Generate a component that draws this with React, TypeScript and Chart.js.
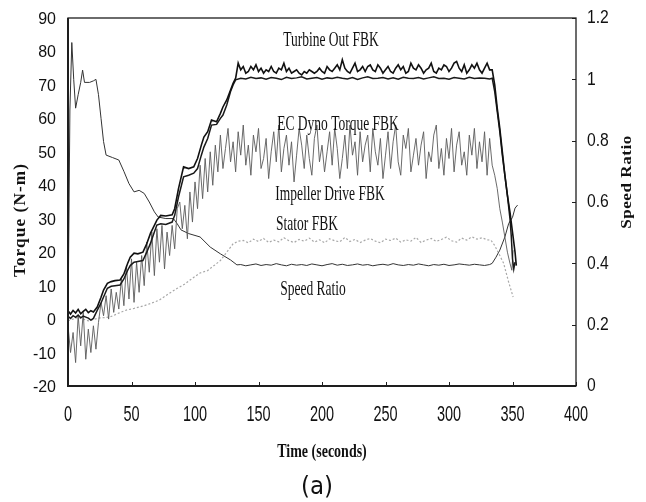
import React, { useEffect, useRef } from "react";
import { Chart, registerables } from "chart.js";

Chart.register(...registerables);

// ---------- axis ticks ----------
const X_TICKS = [0, 50, 100, 150, 200, 250, 300, 350, 400];
const TORQUE_TICKS = [-20, -10, 0, 10, 20, 30, 40, 50, 60, 70, 80, 90];
const RATIO_TICKS = [0, 0.2, 0.4, 0.6, 0.8, 1, 1.2];

// ---------- annotations ----------
const SERIES_LABELS = ["Turbine Out FBK", "EC Dyno Torque FBK", "Impeller Drive FBK", "Stator FBK", "Speed Ratio"];

// ---------- ramp-up time samples (s) shared by the two top torque traces ----------
const RAMP_TIME = [0, 2, 4, 6, 8, 10, 12, 14, 16, 18, 20, 23, 26, 28, 31, 34, 37, 41, 44, 47, 49, 52, 55, 59, 62, 65, 68, 70, 73, 77, 82, 84, 87, 91, 95, 99, 102, 105, 107, 110, 113, 117, 120, 122, 125, 128, 130, 132];

// Turbine Out FBK (N-m)
const turbineRamp = [2.5, 1.5, 2.6, 1.8, 2.9, 1.6, 2.3, 2.9, 1.9, 2.5, 2.1, 3.6, 6.5, 8.7, 10.7, 11.2, 11.5, 11.7, 13.5, 16.7, 18.5, 19.7, 19.5, 20, 22.5, 25.7, 28, 29.6, 31, 30.8, 31.2, 33, 39, 45.5, 45, 45.5, 48, 52, 54.4, 56, 59.5, 59, 61.5, 63.4, 65.5, 68.5, 70.5, 72];
const TURBINE_PLATEAU_START = 134; // every 2 s
const turbinePlateau = [
  76.5, 74.5, 75.5, 73.5, 74, 75.5, 74.5, 76, 74, 75,
  73.5, 74.5, 74, 75.5, 74, 73.5, 75, 74.5, 76.5, 74,
  75, 73.5, 74, 74.5, 73.5, 73, 74, 73.5, 74.5, 74,
  73.5, 74, 75, 74, 73.5, 75.5, 74.5, 74, 75, 76,
  74.5, 77.5, 75, 74, 73.5, 75, 76.5, 74, 74.5, 75.5,
  74, 75.5, 76, 74.5, 74, 76, 75, 73.5, 74.5, 75.5,
  74, 73.5, 75, 76, 74.5, 75.5, 73.5, 74, 76.5, 75,
  74.5, 76, 75, 73.5, 74.5, 75, 76.5, 74, 73.5, 75,
  74.5, 76, 75.5, 74, 75, 76.5, 77, 75, 74, 76,
  73.5, 74.5, 76, 75, 76.5, 74.5, 73.5, 75, 76.5, 74.5,
];
const turbineDropTime = [334, 336, 338, 340, 342, 344, 346, 348, 350, 352, 353];
const turbineDrop = [74.5, 70, 63, 57, 50, 43, 37, 32, 26, 20, 16];

// EC Dyno Torque FBK (N-m)
const dynoRamp = [0.8, 0.2, 1.0, 0.5, 1.2, 0.4, 0.9, 0.6, 0.3, -0.3, 0.2, 2.6, 4.8, 6.6, 9.2, 9.8, 10, 10.2, 12, 14.6, 16, 17, 17.2, 17.5, 20, 22.7, 26, 28.1, 28.5, 28.3, 29, 31, 36.5, 42.5, 43, 43.6, 45, 49, 51.4, 54, 58, 58.2, 60, 61, 64, 68, 70, 71.5];
const DYNO_PLATEAU_START = 136; // every 4 s
const dynoPlateau = [
  72, 71.8, 72.3, 71.9, 72.1, 71.7, 72.2, 72, 71.6, 72.3,
  71.9, 72.1, 72.4, 71.8, 72, 72.2, 71.7, 72.1, 71.9, 72.3,
  72, 71.8, 72.2, 71.6, 72.1, 72.4, 71.9, 72, 72.2, 71.8,
  72.1, 71.7, 72.3, 72, 71.9, 72.2, 71.8, 72.1, 72.4, 71.9,
  72, 71.7, 72.2, 72, 71.8, 72.3, 71.9, 72.1, 72, 71.8,
];
const dynoDropTime = [334, 336, 338, 340, 342, 344, 346, 348, 349, 350, 351, 352];
const dynoDrop = [72, 68, 62, 56, 49, 43, 37, 30, 25, 18, 15, 17];

// Impeller Drive FBK (N-m), sampled every 2 s from t = 0
const IMPELLER_STEP = 2;
const impeller = [
  -2, -10, -4, -13, 1, -8, 2, -12, -3, -10,
  -2, -9, -1, 5, 1, 7, 0, 9, 2, 8,
  3, 12, 4, 16, 6, 18, 5, 17, 8, 19,
  10, 23, 14, 26, 13, 27, 17, 28, 15, 26,
  19, 28, 21, 33, 35, 27, 34, 24, 38, 29,
  41, 33, 46, 36, 48, 38, 50, 40, 52, 44,
  55, 45, 51, 57, 47, 53, 44, 56, 49, 58,
  46, 52, 43, 55, 50, 57, 45, 48, 54, 42,
  50, 56, 47, 58, 44, 51, 55, 46, 53, 41,
  49, 57, 52, 45, 55, 48, 43, 54, 58, 47,
  52, 44, 50, 56, 46, 57, 51, 42, 48, 55,
  45, 58, 49, 53, 43, 56, 47, 52, 55, 44,
  57, 50, 46, 54, 42, 49, 56, 45, 53, 58,
  47, 43, 55, 51, 57, 44, 49, 54, 46, 52,
  56, 42, 50, 47, 55, 58, 45, 51, 43, 54,
  48, 57, 44, 52, 56, 46, 50, 43, 55, 49,
  57, 45, 53, 47, 56, 43, 54, 46,
];
const impellerDropTime = [336, 338, 340, 342, 344, 346, 348, 349.5, 350.5];
const impellerDrop = [43, 39, 33, 29, 24.5, 20, 16.7, 14.6, 20.6];

// Stator FBK (N-m)
const statorRampTime = [0, 8, 16, 24, 33, 40, 46, 52, 60, 66, 72, 79, 86, 92, 98, 104, 110, 115, 120, 125, 130, 134];
const statorRamp = [-0.5, 0.5, -0.5, 0.3, 0.6, 1.8, 2.7, 3.2, 4, 4.8, 5.7, 7.5, 9.2, 10.5, 12.2, 13.8, 14.5, 16, 17.5, 20, 22.5, 23.3];
const STATOR_PLATEAU_START = 138; // every 4 s
const statorPlateau = [
  23.5, 22.8, 23.9, 23.2, 24.1, 22.9, 23.6, 23.1, 24.3, 23.4,
  22.9, 23.8, 23.3, 24.2, 23, 23.7, 22.8, 24, 23.4, 23.1,
  24.4, 23.2, 23.8, 22.9, 23.6, 24.1, 23.3, 22.8, 23.9, 23.5,
  24.2, 23, 23.7, 23.3, 24.4, 22.9, 23.6, 24.1, 23.2, 23.8,
  24.5, 23.4, 23, 24.2, 23.6, 24.6, 23.9, 24.3, 23.7,
];
const statorDropTime = [333, 336, 340, 343, 347, 350.5];
const statorDrop = [23.6, 22, 19, 16.7, 11, 6.6];

// Speed Ratio (right axis)
const speedRampTime = [0, 1.5, 3, 4.5, 6, 8, 10, 11.5, 13, 17, 20, 22, 24, 26, 28, 30, 35, 40, 44, 48, 52, 56, 60, 64, 68, 71, 77, 83, 86, 89, 95, 104, 112, 120, 128, 133];
const speedRamp = [0.2, 0.9, 1.12, 1.0, 0.906, 0.95, 0.99, 1.03, 0.99, 0.99, 0.995, 1.0, 0.95, 0.873, 0.797, 0.753, 0.745, 0.737, 0.7, 0.66, 0.633, 0.638, 0.628, 0.6, 0.568, 0.551, 0.546, 0.546, 0.529, 0.509, 0.497, 0.486, 0.453, 0.431, 0.411, 0.395];
const SPEED_PLATEAU_START = 136; // every 4 s
const speedPlateau = [
  0.396, 0.392, 0.395, 0.398, 0.393, 0.396, 0.394, 0.399, 0.395, 0.392,
  0.397, 0.394, 0.396, 0.393, 0.398, 0.395, 0.392, 0.396, 0.399, 0.394,
  0.397, 0.393, 0.395, 0.398, 0.394, 0.396, 0.392, 0.395, 0.397, 0.394,
  0.399, 0.395, 0.393, 0.396, 0.394, 0.398, 0.395, 0.392, 0.396, 0.394,
  0.397, 0.393, 0.395, 0.398, 0.396, 0.394, 0.397, 0.395, 0.393,
];
const speedEndTime = [332, 334, 337, 340, 344, 347, 350, 352, 354];
const speedEnd = [0.396, 0.4, 0.42, 0.443, 0.486, 0.53, 0.55, 0.58, 0.59];

// ---------- helpers ----------
type P = { x: number; y: number };
const pairs = (t: number[], v: number[]): P[] => t.map((x, i) => ({ x, y: v[i] }));
const stepped = (start: number, step: number, v: number[]): P[] => v.map((y, i) => ({ x: start + i * step, y }));

function drawText(
  ctx: CanvasRenderingContext2D,
  text: string,
  x: number,
  y: number,
  font: string,
  align: CanvasTextAlign,
  sx: number,
  sy: number,
  rot = 0,
  spacing = 0
) {
  ctx.save();
  ctx.translate(x, y);
  if (rot) ctx.rotate(rot);
  ctx.scale(sx, sy);
  ctx.font = font;
  ctx.textAlign = align;
  ctx.textBaseline = "middle";
  (ctx as any).letterSpacing = spacing + "px";
  ctx.fillText(text, 0, 0);
  ctx.restore();
}

const decorPlugin = {
  id: "decor",
  afterDraw(chart: any) {
    const ctx: CanvasRenderingContext2D = chart.ctx;
    const { left, right, top, bottom } = chart.chartArea;
    const xs = chart.scales.x;
    const ys = chart.scales.y;
    const yr = chart.scales.y1;
    ctx.save();
    ctx.strokeStyle = "#1e1e1e";
    ctx.lineWidth = 1.3;
    ctx.strokeRect(left, top, right - left, bottom - top);
    ctx.lineWidth = 2;
    ctx.beginPath();
    ctx.moveTo(left, top);
    ctx.lineTo(left, bottom);
    ctx.lineTo(right, bottom);
    ctx.stroke();

    ctx.lineWidth = 1;
    ctx.beginPath();
    X_TICKS.forEach((v) => {
      const px = Math.round(xs.getPixelForValue(v)) + 0.5;
      ctx.moveTo(px, bottom);
      ctx.lineTo(px, bottom - 4);
    });
    RATIO_TICKS.forEach((v) => {
      const py = Math.round(yr.getPixelForValue(v)) + 0.5;
      ctx.moveTo(right, py);
      ctx.lineTo(right - 4, py);
    });
    ctx.stroke();

    ctx.fillStyle = "#111";
    TORQUE_TICKS.forEach((v) => {
      drawText(ctx, String(v), left - 12, ys.getPixelForValue(v) + 1.5, '16px "Liberation Sans"', "right", 1, 1.02);
    });
    RATIO_TICKS.forEach((v) => {
      drawText(ctx, String(v), right + 11, yr.getPixelForValue(v) + 0.5, '16px "Liberation Sans"', "left", 0.98, 1.12);
    });
    X_TICKS.forEach((v) => {
      drawText(ctx, String(v), xs.getPixelForValue(v), bottom + 29, '14.5px "Liberation Sans"', "center", 1, 1.55);
    });

    // axis titles
    drawText(ctx, "Torque (N-m)", 21, 220, 'bold 16px "Liberation Serif"', "center", 1.08, 1.05, -Math.PI / 2, 1);
    drawText(ctx, "Speed Ratio", 627, 182, 'bold 15.5px "Liberation Serif"', "center", 1.1, 1.0, -Math.PI / 2, 0.5);
    drawText(ctx, "Time (seconds)", 322, 452, 'bold 14px "Liberation Serif"', "center", 1, 1.4);
    drawText(ctx, "(a)", 317, 488, '23px "DejaVu Sans"', "center", 1, 1.05);

    // series annotations
    const f = '13.5px "Liberation Serif"';
    drawText(ctx, SERIES_LABELS[0], 331, 41, f, "center", 1, 1.55);
    drawText(ctx, SERIES_LABELS[1], 338, 125, f, "center", 1, 1.55);
    drawText(ctx, SERIES_LABELS[2], 330, 195, f, "center", 1, 1.55);
    drawText(ctx, SERIES_LABELS[3], 307, 225, f, "center", 1, 1.55);
    drawText(ctx, SERIES_LABELS[4], 313, 290, f, "center", 1, 1.55);
    ctx.restore();
  },
};

export default function App() {
  const ref = useRef<HTMLCanvasElement | null>(null);

  useEffect(() => {
    if (!ref.current) return;
    const turbine = [...pairs(RAMP_TIME, turbineRamp), ...stepped(TURBINE_PLATEAU_START, 2, turbinePlateau), ...pairs(turbineDropTime, turbineDrop)];
    const dyno = [...pairs(RAMP_TIME, dynoRamp), ...stepped(DYNO_PLATEAU_START, 4, dynoPlateau), ...pairs(dynoDropTime, dynoDrop)];
    const imp = [...stepped(0, IMPELLER_STEP, impeller), ...pairs(impellerDropTime, impellerDrop)];
    const stator = [...pairs(statorRampTime, statorRamp), ...stepped(STATOR_PLATEAU_START, 4, statorPlateau), ...pairs(statorDropTime, statorDrop)];
    const speed = [...pairs(speedRampTime, speedRamp), ...stepped(SPEED_PLATEAU_START, 4, speedPlateau), ...pairs(speedEndTime, speedEnd)];

    const common = { pointRadius: 0, tension: 0, fill: false };
    const chart = new Chart(ref.current, {
      type: "line",
      data: {
        datasets: [
          { ...common, label: SERIES_LABELS[0], data: turbine, borderColor: "#111", borderWidth: 1.6, yAxisID: "y" },
          { ...common, label: SERIES_LABELS[1], data: dyno, borderColor: "#1a1a1a", borderWidth: 1.5, yAxisID: "y" },
          { ...common, label: SERIES_LABELS[2], data: imp, borderColor: "#5a5a5a", borderWidth: 0.9, yAxisID: "y" },
          { ...common, label: SERIES_LABELS[3], data: stator, borderColor: "#a8a8a8", borderWidth: 1.2, borderDash: [2, 2], yAxisID: "y" },
          { ...common, label: SERIES_LABELS[4], data: speed, borderColor: "#333", borderWidth: 1, yAxisID: "y1" },
        ],
      },
      options: {
        responsive: false,
        animation: false,
        events: [],
        layout: { padding: { top: 18, left: 0, right: 0, bottom: 0 } },
        plugins: { legend: { display: false }, tooltip: { enabled: false }, title: { display: false } },
        scales: {
          x: {
            type: "linear",
            min: 0,
            max: 400,
            ticks: { display: false, stepSize: 50 },
            grid: { display: false },
            border: { display: false },
            afterFit: (s: any) => {
              s.height = 116;
            },
          },
          y: {
            type: "linear",
            position: "left",
            min: -20,
            max: 90,
            ticks: { display: false, stepSize: 10 },
            grid: { display: false },
            border: { display: false },
            afterFit: (s: any) => {
              s.width = 68;
            },
          },
          y1: {
            type: "linear",
            position: "right",
            min: 0,
            max: 1.2,
            ticks: { display: false, stepSize: 0.2 },
            grid: { display: false },
            border: { display: false },
            afterFit: (s: any) => {
              s.width = 70;
            },
          },
        },
      },
      plugins: [decorPlugin],
    });
    return () => chart.destroy();
  }, []);

  return (
    <div style={{ position: "absolute", left: 0, top: 0, width: 646, height: 502, background: "#fff" }}>
      <canvas ref={ref} width={646} height={502} style={{ display: "block", width: 646, height: 502 }} />
    </div>
  );
}
